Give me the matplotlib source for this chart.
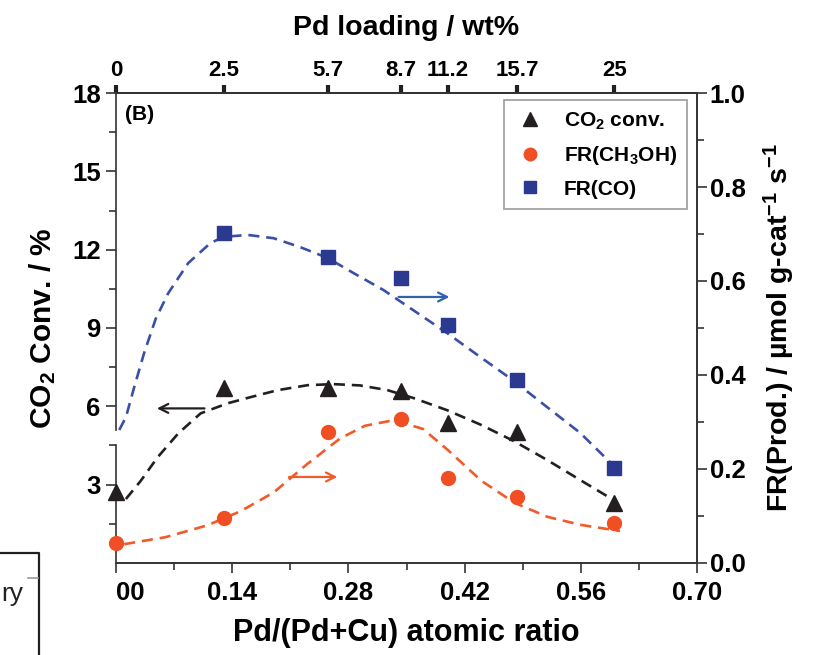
import matplotlib
matplotlib.use("Agg")
import matplotlib.pyplot as plt
from matplotlib.lines import Line2D

plt.rcParams['font.family'] = ['Liberation Sans', 'DejaVu Sans']
plt.rcParams['font.weight'] = 'bold'
plt.rcParams['axes.labelweight'] = 'bold'
plt.rcParams['mathtext.fontset'] = 'custom'
plt.rcParams['mathtext.rm'] = 'Liberation Sans:bold'
plt.rcParams['mathtext.bf'] = 'Liberation Sans:bold'
plt.rcParams['mathtext.it'] = 'Liberation Sans:bold'
plt.rcParams['mathtext.default'] = 'rm'

# Pd/(Pd+Cu) atomic ratio of each catalyst and the matching Pd loading
ratio = [0.0, 0.130, 0.255, 0.343, 0.400, 0.483, 0.600]
pd_loading_labels = ['0', '2.5', '5.7', '8.7', '11.2', '15.7', '25']

# measured values
co2_conv = [2.7, 6.7, 6.7, 6.6, 5.35, 5.0, 2.3]            # %
fr_meoh = [0.043, 0.096, 0.279, 0.306, 0.181, 0.140, 0.085]  # umol g-cat^-1 s^-1
fr_co_ratio = [0.130, 0.255, 0.343, 0.400, 0.483, 0.600]
fr_co = [0.702, 0.651, 0.606, 0.506, 0.389, 0.202]

# trend lines
conv_trend_x = [0.012, 0.030, 0.050, 0.075, 0.102, 0.135, 0.162, 0.195, 0.231, 0.262,
                0.294, 0.327, 0.358, 0.399, 0.439, 0.478, 0.519, 0.559, 0.601]
conv_trend_y = [2.45, 3.15, 4.04, 4.96, 5.73, 6.12, 6.35, 6.62, 6.81, 6.85,
                6.80, 6.62, 6.32, 5.85, 5.30, 4.69, 3.95, 3.18, 2.38]
meoh_trend_x = [0.010, 0.060, 0.110, 0.150, 0.190, 0.230, 0.270, 0.300, 0.335, 0.370,
                0.400, 0.440, 0.480, 0.520, 0.560, 0.607]
meoh_trend_y = [0.040, 0.055, 0.080, 0.110, 0.150, 0.210, 0.265, 0.292, 0.304, 0.285,
                0.240, 0.175, 0.128, 0.098, 0.081, 0.068]
co_trend_x = [0.004, 0.012, 0.022, 0.034, 0.048, 0.063, 0.087, 0.114, 0.130, 0.159,
              0.190, 0.222, 0.255, 0.286, 0.322, 0.358, 0.399, 0.439, 0.478, 0.519,
              0.559, 0.601]
co_trend_y = [0.283, 0.310, 0.374, 0.447, 0.520, 0.574, 0.638, 0.681, 0.694, 0.698,
              0.691, 0.672, 0.649, 0.617, 0.581, 0.538, 0.489, 0.438, 0.389, 0.332,
              0.277, 0.204]

BLACK = '#231f20'
ORANGE = '#f04e23'
NAVY = '#2b3990'
BLUE_LINE = '#3a4fa8'
ARROW_BLUE = '#2f62b0'
SPINE = '#333333'

fig = plt.figure(figsize=(8.28, 6.55), dpi=100)
ax = fig.add_axes([0.140, 0.1405, 0.702, 0.7175])
ax2 = ax.twinx()

dash = (4.2, 2.6)
ax.plot(conv_trend_x, conv_trend_y, color=BLACK, lw=1.9, dashes=dash, clip_on=False)
ax2.plot(meoh_trend_x, meoh_trend_y, color='#f15a29', lw=1.9, dashes=dash, clip_on=False)
ax2.plot(co_trend_x, co_trend_y, color=BLUE_LINE, lw=1.9, dashes=dash, clip_on=False)

h1, = ax.plot(ratio, co2_conv, '^', color=BLACK, ms=11, ls='none', clip_on=False,
              zorder=5, label='CO$_2$ conv.')
h2, = ax2.plot(ratio, fr_meoh, 'o', color=ORANGE, ms=10, ls='none', clip_on=False,
               zorder=5, label='FR(CH$_3$OH)')
h3, = ax2.plot(fr_co_ratio, fr_co, 's', color=NAVY, ms=9.5, ls='none', clip_on=False,
               zorder=5, label='FR(CO)')

# axis-direction arrows
ax.annotate('', xy=(0.046, 5.92), xytext=(0.110, 5.92),
            arrowprops=dict(arrowstyle='->', color=BLACK, lw=1.6, mutation_scale=16))
ax2.annotate('', xy=(0.270, 0.183), xytext=(0.205, 0.183),
             arrowprops=dict(arrowstyle='->', color='#f15a29', lw=1.6, mutation_scale=16))
ax2.annotate('', xy=(0.405, 0.566), xytext=(0.337, 0.566),
             arrowprops=dict(arrowstyle='->', color=ARROW_BLUE, lw=1.6, mutation_scale=16))

ax.set_xlim(0, 0.70)
ax.set_ylim(0, 18)
ax2.set_ylim(0, 1.0)

xt = [0.0, 0.14, 0.28, 0.42, 0.56, 0.70]
ax.set_xticks(xt)
ax.set_xticklabels(['00', '0.14', '0.28', '0.42', '0.56', '0.70'])
ax.get_xticklabels()[0].set_horizontalalignment('left')
ax.set_xticks([0.07, 0.21, 0.35, 0.49, 0.63], minor=True)
ax.set_yticks([3, 6, 9, 12, 15, 18])
ax.set_yticks([1.5, 4.5, 7.5, 10.5, 13.5, 16.5], minor=True)
ax2.set_yticks([0.0, 0.2, 0.4, 0.6, 0.8, 1.0])
ax2.set_yticklabels(['0.0', '0.2', '0.4', '0.6', '0.8', '1.0'])
ax2.set_yticks([0.1, 0.3, 0.5, 0.7, 0.9], minor=True)

for a in (ax, ax2):
    for s in a.spines.values():
        s.set_color(SPINE)
        s.set_linewidth(1.2)
ax.spines['left'].set_visible(False)
ax2.spines['left'].set_visible(False)

# broken left axis
for y0, y1 in ((0.0, 4.5 / 18), (5.1 / 18, 1.0)):
    ax.add_line(Line2D([0, 0], [y0, y1], transform=ax.transAxes, color=SPINE,
                       lw=1.2, clip_on=False))

ax.tick_params(axis='both', which='major', direction='out', length=7, width=1.2,
               color=SPINE, labelsize=18.5)
ax.tick_params(axis='both', which='minor', direction='out', length=5, width=1.2,
               color=SPINE)
ax.tick_params(axis='y', pad=4)
ax.tick_params(axis='x', pad=6)
ax2.tick_params(axis='y', which='major', direction='out', length=7, width=1.2,
                color=SPINE, labelsize=18.5, pad=2)
ax2.tick_params(axis='y', which='minor', direction='out', length=5, width=1.2,
                color=SPINE)

ax.set_xlabel('Pd/(Pd+Cu) atomic ratio', fontsize=22, labelpad=9)
ax.set_ylabel('CO$_2$ Conv. / %', fontsize=21.5, labelpad=10)
ax2.set_ylabel('FR(Prod.) / \u00b5mol g-cat$^{-1}$ s$^{-1}$', fontsize=20.5, labelpad=12)

top = ax.secondary_xaxis('top')
top.set_xticks(ratio)
top.set_xticklabels(pd_loading_labels)
top.tick_params(direction='out', length=6, width=3, color=BLACK, labelsize=16, pad=3)
top.spines['top'].set_color(SPINE)
top.spines['top'].set_linewidth(1.2)
top.set_xlabel('Pd loading / wt%', fontsize=20.5, labelpad=18)

ax.text(0.016, 0.975, '(B)', transform=ax.transAxes, fontsize=15, ha='left', va='top')

leg = ax2.legend(handles=[h1, h2, h3], loc='upper right', bbox_to_anchor=(0.983, 0.985),
                 borderaxespad=0, fontsize=15, frameon=True, fancybox=False,
                 handletextpad=0.85, labelspacing=0.6, borderpad=0.5, handlelength=1.5,
                 markerscale=0.9)
leg.get_frame().set_edgecolor('#8c8c8c')
leg.get_frame().set_linewidth(1.3)

# edge of the neighbouring panel's legend box
fy = lambda py: 1 - py / 655
fx = lambda px: px / 828
fig.add_artist(Line2D([0, fx(39), fx(39)], [fy(553), fy(553), 0], transform=fig.transFigure,
                      color=BLACK, lw=1.6))
fig.add_artist(Line2D([fx(28), fx(38)], [fy(578), fy(578)], transform=fig.transFigure,
                      color='#999999', lw=1.2))
fig.text(fx(1), fy(601), 'ry', fontsize=19, fontweight='normal', ha='left', va='baseline',
         color='#222222')

fig.savefig('out.png', dpi=100)
